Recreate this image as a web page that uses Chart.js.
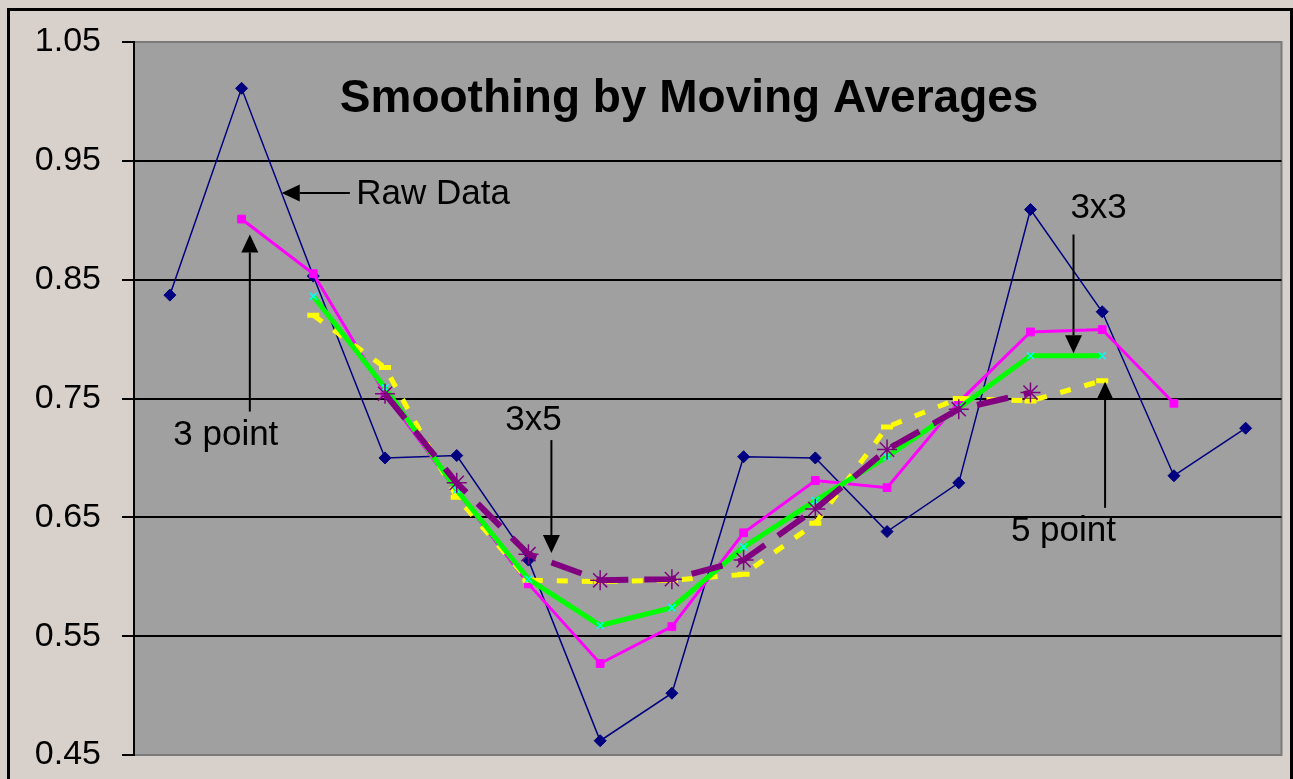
<!DOCTYPE html>
<html>
<head>
<meta charset="utf-8">
<script src="https://cdn.jsdelivr.net/npm/chart.js@4.4.1/dist/chart.umd.min.js"></script>
<style>
  html, body { margin: 0; padding: 0; background: #d8d0ca; overflow: hidden; }
  #wrap { width: 1293px; height: 779px; }
</style>
</head>
<body>
<div id="wrap"><canvas id="c" width="1293" height="779"></canvas></div>
<script>
// ---- data ----
const categories = ['1','2','3','4','5','6','7','8','9','10','11','12','13','14','15','16'];
const rawData     = [0.837, 1.011, 0.853, 0.700, 0.702, 0.614, 0.462, 0.502, 0.701, 0.700, 0.638, 0.679, 0.909, 0.823, 0.685, 0.725];
const threePoint  = [null, 0.901, 0.855, 0.754, 0.672, 0.594, 0.527, 0.558, 0.637, 0.681, 0.675, 0.747, 0.806, 0.808, 0.746, null];
const fivePoint   = [null, null, 0.820, 0.776, 0.667, 0.597, 0.596, 0.597, 0.602, 0.645, 0.726, 0.750, 0.748, 0.765, null, null];
const threeByThree= [null, null, 0.836, 0.759, 0.673, 0.598, 0.559, 0.574, 0.625, 0.664, 0.701, 0.742, 0.786, 0.786, null, null];
const threeByFive = [null, null, null, 0.754, 0.679, 0.619, 0.597, 0.598, 0.614, 0.657, 0.707, 0.741, 0.755, null, null, null];
const yTicks = [0.45, 0.55, 0.65, 0.75, 0.85, 0.95, 1.05];
const titleText = 'Smoothing by Moving Averages';
// annotations in data units: arrow tail -> tip (category index, value), label position
const annotations = [
  { text: 'Raw Data', tx: 2.60, ty: 0.922, align: 'left',   from: [2.51, 0.923], to: [1.56, 0.923] },
  { text: '3 point',  tx: 0.78, ty: 0.719, align: 'center', from: [1.115, 0.739], to: [1.115, 0.888] },
  { text: '3x5',      tx: 5.07, ty: 0.732, align: 'center', from: [5.32, 0.715], to: [5.32, 0.620] },
  { text: '3x3',      tx: 12.95, ty: 0.910, align: 'center', from: [12.60, 0.888], to: [12.60, 0.788] },
  { text: '5 point',  tx: 12.46, ty: 0.638, align: 'center', from: [13.04, 0.658], to: [13.04, 0.764] }
];

const FONT = '"Liberation Sans", Arial, "DejaVu Sans", sans-serif';

const decorPlugin = {
  id: 'decor',
  beforeDraw(chart) {
    const ctx = chart.ctx, a = chart.chartArea;
    ctx.save();
    ctx.fillStyle = '#d8d0ca';
    ctx.fillRect(0, 0, chart.width, chart.height);
    ctx.strokeStyle = '#000';
    ctx.lineWidth = 3;
    ctx.strokeRect(8.5, 9.5, chart.width - 10, chart.height + 20);
    ctx.fillStyle = '#a0a0a0';
    ctx.fillRect(a.left, a.top, a.right - a.left, a.bottom - a.top);
    ctx.strokeStyle = '#7a7a7a';
    ctx.lineWidth = 2;
    ctx.beginPath();
    ctx.moveTo(a.left, a.top); ctx.lineTo(a.right, a.top); ctx.lineTo(a.right, a.bottom); ctx.lineTo(a.left, a.bottom);
    ctx.stroke();
    ctx.restore();
  },
  afterDraw(chart) {
    const ctx = chart.ctx, xs = chart.scales.x, ys = chart.scales.y;
    const px = v => xs.left + (xs.right - xs.left) * (v + 0.5) / categories.length;
    ctx.save();
    // title
    ctx.fillStyle = '#000';
    ctx.font = 'bold 46px ' + FONT;
    ctx.textAlign = 'center';
    ctx.textBaseline = 'alphabetic';
    ctx.fillText(titleText, px(7.24), ys.getPixelForValue(0.991));
    // annotations
    ctx.font = '35px ' + FONT;
    annotations.forEach(an => {
      ctx.textAlign = an.align;
      ctx.textBaseline = 'middle';
      ctx.fillText(an.text, px(an.tx), ys.getPixelForValue(an.ty));
      const x1 = px(an.from[0]), y1 = ys.getPixelForValue(an.from[1]);
      const x2 = px(an.to[0]), y2 = ys.getPixelForValue(an.to[1]);
      const ang = Math.atan2(y2 - y1, x2 - x1);
      const L = 18, W = 8.5;
      ctx.strokeStyle = '#000';
      ctx.lineWidth = 2;
      ctx.beginPath();
      ctx.moveTo(x1, y1);
      ctx.lineTo(x2 - Math.cos(ang) * L, y2 - Math.sin(ang) * L);
      ctx.stroke();
      ctx.beginPath();
      ctx.moveTo(x2, y2);
      ctx.lineTo(x2 - Math.cos(ang) * L - Math.sin(ang) * W, y2 - Math.sin(ang) * L + Math.cos(ang) * W);
      ctx.lineTo(x2 - Math.cos(ang) * L + Math.sin(ang) * W, y2 - Math.sin(ang) * L - Math.cos(ang) * W);
      ctx.closePath();
      ctx.fillStyle = '#000';
      ctx.fill();
    });
    ctx.restore();
  }
};

new Chart(document.getElementById('c'), {
  type: 'line',
  data: {
    labels: categories,
    datasets: [
      { label: 'Raw Data', data: rawData, order: 5,
        borderColor: '#000080', borderWidth: 1.5,
        pointStyle: 'rectRot', pointRadius: 6, pointBackgroundColor: '#000080', pointBorderColor: '#000080', pointBorderWidth: 1 },
      { label: '3 point', data: threePoint, order: 4,
        borderColor: '#ff00ff', borderWidth: 3,
        pointStyle: 'rect', pointRadius: 5.5, pointBackgroundColor: '#ff00ff', pointBorderColor: '#ff00ff', pointBorderWidth: 1 },
      { label: '5 point', data: fivePoint, order: 3,
        borderColor: '#ffff00', borderWidth: 5, borderDash: [11, 14],
        pointStyle: 'line', pointRadius: 6, pointBackgroundColor: '#ffff00', pointBorderColor: '#ffff00', pointBorderWidth: 5 },
      { label: '3x3', data: threeByThree, order: 2,
        borderColor: '#00ff00', borderWidth: 5,
        pointStyle: 'crossRot', pointRadius: 5, pointBackgroundColor: '#00ffff', pointBorderColor: '#00ffff', pointBorderWidth: 1.5 },
      { label: '3x5', data: threeByFive, order: 1,
        borderColor: '#800080', borderWidth: 6, borderDash: [32, 16],
        pointStyle: 'star', pointRadius: 10, pointBackgroundColor: '#800080', pointBorderColor: '#800080', pointBorderWidth: 1.5 }
    ]
  },
  options: {
    responsive: false,
    animation: false,
    devicePixelRatio: 1,
    spanGaps: false,
    layout: { padding: { left: 0, top: 42, right: 10, bottom: 24 } },
    plugins: { legend: { display: false }, tooltip: { enabled: false }, title: { display: false } },
    elements: { line: { tension: 0, fill: false } },
    scales: {
      x: { type: 'category', display: false, offset: true },
      y: {
        min: 0.45, max: 1.05,
        afterFit(s) { s.width = 134; s.paddingTop = 0; s.paddingBottom = 0; },
        afterBuildTicks(s) { s.ticks = yTicks.map(v => ({ value: v })); },
        ticks: {
          color: '#000', padding: 21,
          font: { family: FONT, size: 34 },
          callback: v => Number(v).toFixed(2)
        },
        grid: {
          color: c => (c.tick && (c.tick.value <= 0.451 || c.tick.value >= 1.049)) ? 'rgba(0,0,0,0)' : '#000',
          lineWidth: 2, tickLength: 12, tickColor: '#000', tickWidth: 2, drawTicks: true
        },
        border: { display: true, color: '#000', width: 2 }
      }
    }
  },
  plugins: [decorPlugin]
});
</script>
</body>
</html>
